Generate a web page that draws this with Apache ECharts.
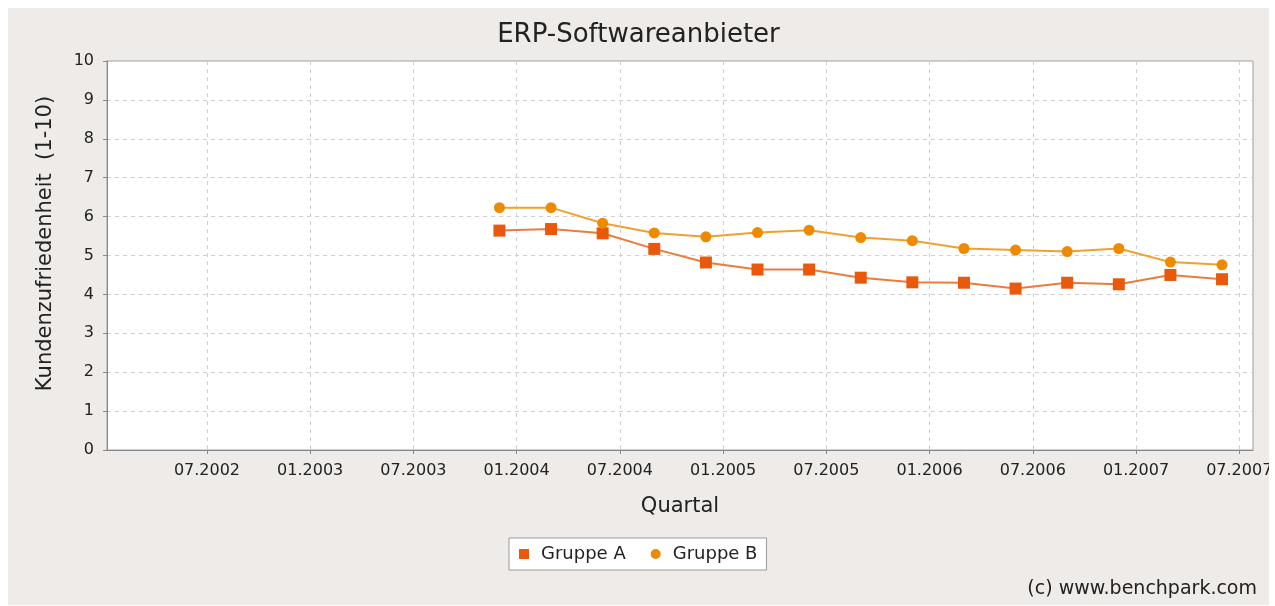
<!DOCTYPE html>
<html>
<head>
<meta charset="utf-8">
<script src="https://cdn.jsdelivr.net/npm/echarts@6/dist/echarts.min.js"></script>
<style>
  html, body { margin: 0; padding: 0; background: #ffffff; }
  #wrap { position: absolute; left: 8px; top: 8px; width: 1261px; height: 597px; background: #eeebe8; overflow: hidden; }
  #chart { width: 1261px; height: 597px; }
</style>
</head>
<body>
<div id="wrap"><div id="chart"></div></div>
<script>
// Quarters (month of each observation)
const quarters = ["2003-12","2004-03","2004-06","2004-09","2004-12","2005-03","2005-06","2005-09","2005-12","2006-03","2006-06","2006-09","2006-12","2007-03","2007-06"];
const gruppeA = [5.64, 5.68, 5.57, 5.17, 4.82, 4.64, 4.64, 4.43, 4.31, 4.30, 4.15, 4.30, 4.26, 4.50, 4.39];
const gruppeB = [6.23, 6.23, 5.83, 5.58, 5.48, 5.59, 5.65, 5.46, 5.38, 5.18, 5.14, 5.10, 5.18, 4.83, 4.76];
const xTicks = ["2002-07","2003-01","2003-07","2004-01","2004-07","2005-01","2005-07","2006-01","2006-07","2007-01","2007-07"];

const BASE_YEAR = 2002;
function monthIndex(s) { const [y, m] = s.split("-").map(Number); return (y - BASE_YEAR) * 12 + (m - 1); }
function labelOf(v) {
  const y = BASE_YEAR + Math.floor(v / 12);
  const m = Math.round(v - (y - BASE_YEAR) * 12) + 1;
  return (m < 10 ? "0" + m : "" + m) + "." + y;
}
const tickVals = xTicks.map(monthIndex);
const dataA = quarters.map((q, i) => [monthIndex(q), gruppeA[i]]);
const dataB = quarters.map((q, i) => [monthIndex(q), gruppeB[i]]);

const FONT = "DejaVu Sans";
const chart = echarts.init(document.getElementById("chart"), null, { renderer: "canvas" });
chart.setOption({
  animation: false,
  backgroundColor: "#eeebe8",
  textStyle: { fontFamily: FONT },
  title: {
    text: "ERP-Softwareanbieter",
    left: "center", top: 9,
    textStyle: { fontFamily: FONT, fontSize: 26, fontWeight: "normal", color: "#222" }
  },
  graphic: [{
    type: "text", right: 12, top: 572,
    style: { text: "(c) www.benchpark.com", font: "19px " + FONT, fill: "#222" }
  }],
  legend: {
    top: 530, left: 501,
    backgroundColor: "#ffffff", borderColor: "#999", borderWidth: 1, borderRadius: 0,
    padding: [7, 9, 7, 10],
    itemGap: 25, itemWidth: 10, itemHeight: 10,
    textStyle: { fontFamily: FONT, fontSize: 18, color: "#222", padding: [0, 0, 0, 7] },
    data: [{ name: "Gruppe A", icon: "rect" }, { name: "Gruppe B", icon: "circle" }]
  },
  grid: {
    left: 99, right: 16, top: 53, bottom: 155,
    outerBoundsMode: "none",
    show: true, backgroundColor: "#ffffff", borderColor: "#a0a0a0", borderWidth: 1
  },
  xAxis: {
    type: "value", min: 0.19, max: 66.8,
    name: "Quartal", nameLocation: "middle", nameGap: 46,
    nameTextStyle: { fontFamily: FONT, fontSize: 21, color: "#222" },
    axisLine: { show: true, lineStyle: { color: "#888" } },
    axisTick: { show: true, length: 4, inside: false, customValues: tickVals, lineStyle: { color: "#888" } },
    axisLabel: { customValues: tickVals, formatter: labelOf, fontFamily: FONT, fontSize: 16, color: "#222", margin: 13 },
    splitLine: { show: true, lineStyle: { color: "#d0d0d0", type: [4, 4] } }
  },
  yAxis: {
    type: "value", min: 0, max: 10, interval: 1,
    name: "Kundenzufriedenheit  (1-10)", nameLocation: "middle", nameGap: 51, nameRotate: 90,
    nameTextStyle: { fontFamily: FONT, fontSize: 21, color: "#222", padding: [0, 0, 0, 24] },
    axisLine: { show: true, lineStyle: { color: "#888" } },
    axisTick: { show: true, length: 4, lineStyle: { color: "#888" } },
    axisLabel: { fontFamily: FONT, fontSize: 16, color: "#222", margin: 13 },
    splitLine: { show: true, lineStyle: { color: "#d0d0d0", type: [4, 4] } }
  },
  series: [
    {
      name: "Gruppe A", type: "line", data: dataA,
      symbol: "rect", symbolSize: 12,
      itemStyle: { color: "#e8590c" },
      lineStyle: { color: "#f07a3a", width: 2 }
    },
    {
      name: "Gruppe B", type: "line", data: dataB,
      symbol: "circle", symbolSize: 11,
      itemStyle: { color: "#ee8a00" },
      lineStyle: { color: "#f0a030", width: 2 }
    }
  ]
});
</script>
</body>
</html>
